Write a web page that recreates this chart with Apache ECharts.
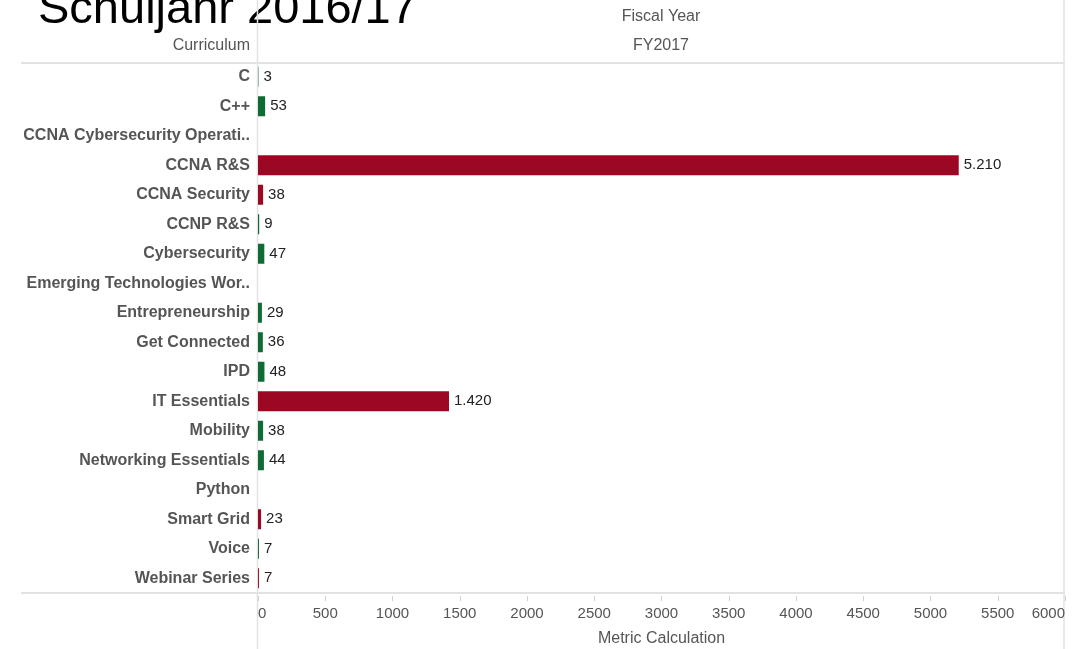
<!DOCTYPE html>
<html>
<head>
<meta charset="utf-8">
<script src="https://cdn.jsdelivr.net/npm/echarts@6/dist/echarts.min.js"></script>
<style>
html,body{margin:0;padding:0;background:#fff;}
#c{width:1084px;height:649px;}
</style>
</head>
<body>
<div id="c"></div>
<script>
var categories = ["C","C++","CCNA Cybersecurity Operati..","CCNA R&S","CCNA Security","CCNP R&S","Cybersecurity","Emerging Technologies Wor..","Entrepreneurship","Get Connected","IPD","IT Essentials","Mobility","Networking Essentials","Python","Smart Grid","Voice","Webinar Series"];
var values = [3,53,null,5210,38,9,47,null,29,36,48,1420,38,44,null,23,7,7];
var group = ["g","g",null,"r","r","g","g",null,"g","g","g","r","g","g",null,"r","g","r"];
var xTicks = [0,500,1000,1500,2000,2500,3000,3500,4000,4500,5000,5500,6000];

var colorMap = {g:"#0f6b34", r:"#9c0824"};
var FONT = '"Liberation Sans", Arial, sans-serif';
var chart = echarts.init(document.getElementById('c'));
function fmt(v){ return String(v).replace(/\B(?=(\d{3})+(?!\d))/g, '.'); }

var data = values.map(function(v,i){
  return {value: v, itemStyle:{color: group[i] ? colorMap[group[i]] : '#999'}};
});

var line = {stroke:'#e2e2e2', lineWidth:2};
var vline = {stroke:'#e2e2e2', lineWidth:1.5};
chart.setOption({
  animation:false,
  grid:{left:258, right:19, top:62, bottom:56, containLabel:false, outerBoundsMode:'none'},
  graphic:[
    {type:'text', left:38, top:-13, style:{text:'Schuljahr 2016/17', font:'47px ' + FONT, fill:'#000'}},
    {type:'text', x:661, y:17, style:{text:'Fiscal Year', font:'16px ' + FONT, fill:'#555', align:'center', verticalAlign:'middle'}},
    {type:'text', x:250, y:46, style:{text:'Curriculum', font:'16px ' + FONT, fill:'#555', align:'right', verticalAlign:'middle'}},
    {type:'text', x:661, y:46, style:{text:'FY2017', font:'16px ' + FONT, fill:'#555', align:'center', verticalAlign:'middle'}},
    {type:'line', shape:{x1:21, y1:63, x2:1065, y2:63}, style:line},
    {type:'line', shape:{x1:21, y1:593, x2:1065, y2:593}, style:line},
    {type:'line', shape:{x1:257.5, y1:0, x2:257.5, y2:649}, style:vline},
    {type:'line', shape:{x1:1064, y1:0, x2:1064, y2:649}, style:vline}
  ],
  xAxis:{
    type:'value', min:xTicks[0], max:xTicks[xTicks.length-1], interval:500,
    position:'bottom', offset:3,
    axisLine:{show:false},
    axisTick:{show:true, length:5, lineStyle:{color:'#d0d0d0'}},
    splitLine:{show:false},
    axisLabel:{color:'#555', fontSize:15, fontFamily:FONT, margin:10, alignMinLabel:'left', alignMaxLabel:'right',
      formatter:function(v){ return String(v); }},
    name:'Metric Calculation', nameLocation:'middle', nameGap:35,
    nameTextStyle:{color:'#555', fontSize:16, fontFamily:FONT}
  },
  yAxis:{
    type:'category', data:categories, inverse:true,
    axisLine:{show:false}, axisTick:{show:false},
    axisLabel:{color:'#555', fontSize:16, fontWeight:'bold', fontFamily:FONT, margin:8}
  },
  series:[{
    type:'bar', data:data, barWidth:20,
    label:{show:true, position:'right', distance:5, color:'#222', fontSize:15, fontFamily:FONT,
      formatter:function(p){ return p.value==null ? '' : fmt(p.value); }}
  }]
});
</script>
</body>
</html>
